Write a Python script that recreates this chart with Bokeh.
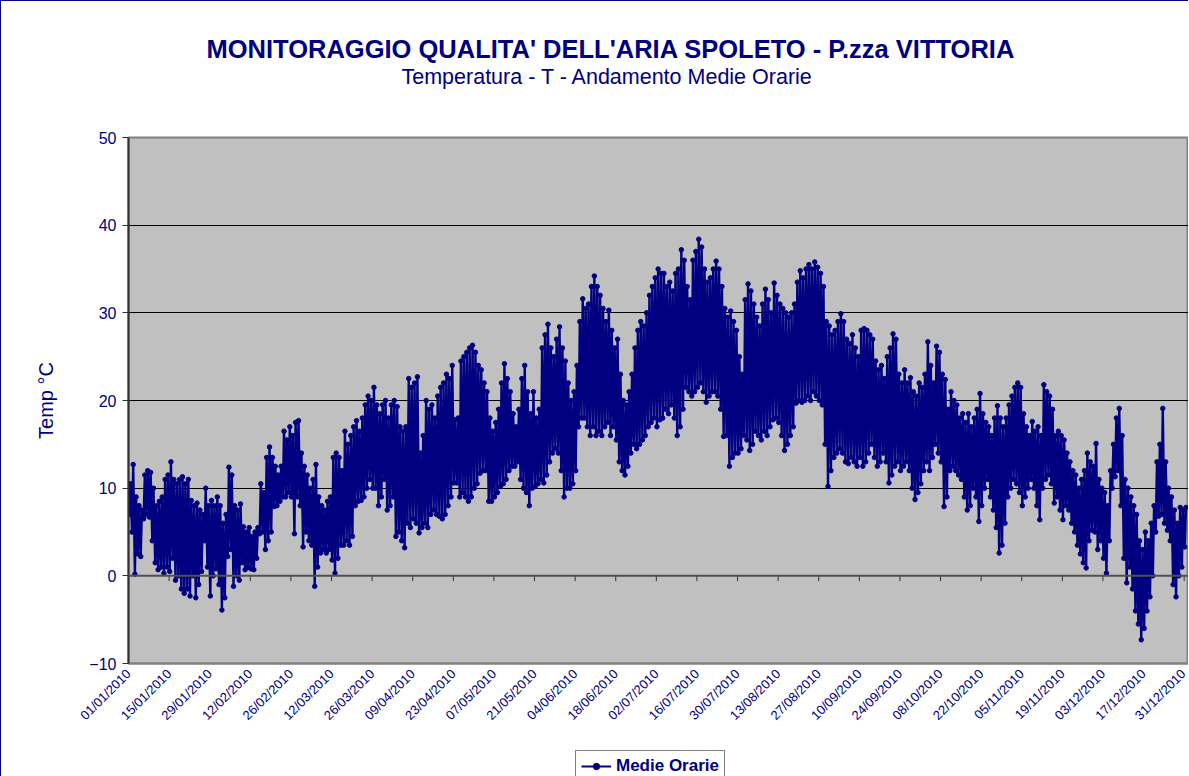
import math
from bokeh.plotting import figure
from bokeh.layouts import column
from bokeh.models import Range1d, FixedTicker, Title, Legend, LegendItem, Span
from bokeh.embed import file_html
from bokeh.resources import INLINE

title_text = "MONITORAGGIO QUALITA' DELL'ARIA  SPOLETO - P.zza VITTORIA"
subtitle_text = "Temperatura - T - Andamento Medie Orarie"
y_label = "Temp °C"
series_name = "Medie Orarie"

tick_labels = ["01/01/2010", "15/01/2010", "29/01/2010", "12/02/2010", "26/02/2010",
               "12/03/2010", "26/03/2010", "09/04/2010", "23/04/2010", "07/05/2010",
               "21/05/2010", "04/06/2010", "18/06/2010", "02/07/2010", "16/07/2010",
               "30/07/2010", "13/08/2010", "27/08/2010", "10/09/2010", "24/09/2010",
               "08/10/2010", "22/10/2010", "05/11/2010", "19/11/2010", "03/12/2010",
               "17/12/2010", "31/12/2010"]
tick_days = [0, 14, 28, 42, 56, 70, 84, 98, 112, 126, 140, 154, 168, 182, 196, 210,
             224, 238, 252, 266, 280, 294, 308, 322, 336, 350, 364]
y_ticks = [-10, 0, 10, 20, 30, 40, 50]

# hour of day of the daily minimum and maximum readings
min_hour = 5
max_hour = 15

# daily minimum of the hourly means (°C), 1 Jan .. 31 Dec 2010
daily_min = [
    7, 5, 0.2, 2.5, 2.2, 6.5, 7, 6.7, 4, 1.5,
    0.7, 1, 0.3, 1, 0.5, 2, -0.5, 0, -1.5, -2,
    -1.5, -2.3, 0, -2.5, -1, 0.5, 4, 1, -2.3, 0,
    0.8, -1, -3.9, -2.5, 2.2, 3, -1.2, 0, -0.5, 1.5,
    0.7, 1, 0.8, 0.7, 2, 4.8, 5, 3, 4, 5,
    7.9, 8, 8.5, 9, 9, 9.5, 9, 4.8, 9, 8,
    3.3, 5, 4, 3.5, -1.2, 1, 2.6, 3, 2.6, 3,
    1.8, 0.3, 2, 3.5, 3.5, 4, 3.5, 4.5, 8, 8.5,
    8.6, 9, 10, 11, 10, 10, 8, 9, 11, 7.5,
    8, 9, 4.5, 5, 4, 3.2, 6, 5.5, 6.5, 6,
    4.9, 5.5, 6, 5.5, 7, 7.5, 7, 6.8, 6.5, 7,
    8, 9, 10.6, 10.6, 9, 9.5, 9, 8.5, 9, 10,
    10.5, 11.7, 12, 12, 8.5, 8.5, 9, 9.5, 10.2, 10.5,
    11, 12, 12.5, 12.5, 13, 11, 10, 9.5, 8, 10,
    10.2, 10.5, 11, 10.6, 11.5, 13, 14, 14.5, 14, 12,
    9, 10, 10, 10.5, 12, 17, 18, 18, 17, 16,
    17, 16, 16.5, 16, 17, 17.5, 16, 17, 15.5, 13,
    12, 11.5, 12.5, 14, 15, 14.5, 15, 15.5, 16, 17,
    17.5, 18, 17, 17.8, 18, 19, 18.5, 19.5, 18, 16,
    17, 19, 21.5, 21, 20.5, 21, 21.5, 22, 21, 19.8,
    20.5, 21, 21, 20.5, 19, 15.9, 16, 12.5, 13.5, 14,
    14, 14.5, 16, 15.5, 14.3, 15, 16.5, 16, 15.5, 16.5,
    16, 17, 17.8, 18, 17.5, 16, 14.3, 15, 16, 17,
    19.7, 20, 19.8, 20, 20.5, 20, 21, 20.5, 20, 19.5,
    15, 10.2, 12, 13.5, 14, 14.5, 14, 13, 12.8, 13.5,
    13, 12.5, 13.5, 12.5, 13, 14, 15, 13.5, 12.5, 13,
    14, 13, 10.6, 11.5, 12.5, 13, 12, 12.5, 13, 12,
    10, 8.7, 9.5, 10.5, 12, 13, 12, 13.5, 15, 14,
    13, 7.9, 9, 12, 12.5, 12, 11.5, 11, 9, 7.5,
    8, 10, 9, 6.2, 8, 10, 11, 9, 7.5, 5.5,
    2.6, 3.5, 6, 9, 10, 11, 10.5, 9.5, 8, 9,
    10, 11, 10, 8, 6.4, 10, 11, 11.5, 10.5, 8.3,
    9, 7.5, 6.4, 8, 7.5, 6, 5, 3.5, 2.5, 1.5,
    0.9, 4, 5.2, 5, 3, 4, 2, 0.3, 4, 10,
    11.3, 12, 8, 2, -0.8, 1, -1.5, -4, -5.5, -7.3,
    -6, -4, -2.4, 0, 5, 6.8, 7, 6, 5.2, 4,
    -1, -2.4, 0, 1, 3.3,
]

# daily maximum of the hourly means (°C)
daily_max = [
    10.5, 12.7, 9, 8, 7.5, 11.5, 12, 11.8, 10, 8,
    8.5, 9, 11, 11.5, 13, 11, 10.5, 11, 11.3, 10.5,
    11, 8.6, 8, 8.3, 7.5, 7, 10, 8, 8.6, 8,
    9, 8, 6, 7, 12.4, 11.5, 8, 7.5, 8.2, 5.6,
    5, 5.5, 4.5, 5, 5.5, 10.5, 9.5, 13.5, 14.7, 13.5,
    12.5, 11.5, 12.5, 16.5, 15.5, 17, 16, 17.5, 17.7, 14,
    12.5, 11.5, 10, 11, 12.7, 9, 8, 7.5, 8.5, 9,
    13.5, 14, 13.5, 12, 16.5, 15, 16, 17, 17.7, 16.5,
    18, 19.5, 20.5, 20, 21.5, 19.5, 18.5, 19.5, 20, 18,
    19.5, 20, 19.3, 17, 16.5, 17, 22.5, 21.5, 22, 22.7,
    14, 16, 20, 19, 19.5, 18, 20.5, 21.5, 22, 23,
    22.5, 24, 17.8, 18, 24.5, 25, 25.5, 26, 26.3, 25.5,
    24, 23.5, 22, 21, 18, 16.5, 17.5, 19, 22, 24.2,
    22.5, 21, 18.5, 17, 19, 22.5, 24, 21, 18.5, 21,
    18, 19, 26, 27.5, 28.7, 26, 25, 27, 28.4, 26,
    24.5, 22, 20, 21, 24, 29, 31.6, 30.5, 31, 33,
    34.2, 33, 32, 30.5, 29, 30.3, 28, 26, 27, 23,
    20, 19.5, 21, 23, 26, 28, 29, 28.5, 30, 32,
    33, 34, 35, 34.5, 34.5, 33, 33.5, 32.5, 34.5, 35,
    37.2, 36, 33, 31.5, 36, 37, 38.4, 37.5, 35, 33.5,
    34, 35, 35.9, 35, 33, 30.5, 29.5, 30.2, 29, 28,
    25, 23, 31.5, 33.3, 32.5, 31, 29.5, 28.5, 31, 32.7,
    31.5, 30, 33.4, 32, 31, 30.5, 30, 29.5, 30, 31,
    33.5, 34.8, 34, 35, 35.5, 35, 35.8, 35.2, 34.5, 33,
    29, 28.5, 27.5, 28, 29, 29.9, 29, 27, 26.5, 27.5,
    26, 25, 28, 28.2, 28, 27.5, 27, 24.5, 23.5, 24,
    22.5, 25, 26, 27.6, 27, 23, 22, 23.5, 22, 22.6,
    21, 20.5, 22, 21.5, 23, 26.7, 24, 22, 26.2, 25.5,
    23, 22.4, 19, 21, 20, 19.5, 18, 18.5, 17.5, 18.5,
    17, 18, 19, 20.8, 18.5, 17.5, 17, 16, 18, 19.4,
    18, 17, 18, 19.5, 20.5, 21.5, 22, 21.5, 18.5, 17,
    16, 17.6, 16.5, 17, 16, 21.8, 21, 20.5, 19, 16,
    16.5, 16, 15.5, 14, 13, 12, 11.5, 10, 11, 12,
    14, 13, 12.5, 15.1, 11, 10, 9.5, 8, 12, 15,
    18, 19.1, 16, 11, 10, 9, 8, 7, 4, 3,
    5, 4, 6, 8, 13, 15, 19.1, 13, 10, 9,
    7.5, 6, 7.8, 7.5, 7.8,
]

assert len(daily_min) == 365 and len(daily_max) == 365

xs, ys = [], []
for d, (lo, hi) in enumerate(zip(daily_min, daily_max)):
    xs += [d + min_hour / 24.0, d + max_hour / 24.0]
    ys += [lo, hi]

NAVY = "#000080"
FONT = "Liberation Sans"

fig = figure(width=1187, height=744, output_backend="svg",
             toolbar_location=None, title=None,
             x_range=Range1d(0, 365.5), y_range=Range1d(-10, 50),
             min_border_left=127, min_border_top=0, min_border_bottom=82,
             min_border_right=0,
             background_fill_color="#C0C0C0", border_fill_color="white",
             outline_line_color="#808080", outline_line_width=2)

# titles (first added is closest to the plot frame); blank titles are spacers
fig.add_layout(Title(text=" ", standoff=46, text_font=FONT, text_font_size="1px",
                     text_color="white"), "above")
fig.add_layout(Title(text=subtitle_text, align="left", offset=273, standoff=0,
                     text_font=FONT, text_font_size="21.5px", text_font_style="normal",
                     text_color=NAVY), "above")
fig.add_layout(Title(text=title_text, align="left", offset=78, standoff=0,
                     text_font=FONT, text_font_size="25.5px", text_font_style="bold",
                     text_color=NAVY), "above")
fig.add_layout(Title(text=" ", standoff=28, text_font=FONT, text_font_size="1px",
                     text_color="white"), "above")

# grid
fig.xgrid.visible = False
fig.ygrid.ticker = FixedTicker(ticks=[10, 20, 30, 40])
fig.ygrid.grid_line_color = "black"
fig.ygrid.grid_line_width = 1

fig.add_layout(Span(location=0, dimension="width", line_color="#505050", line_width=2))

# y axis
yax = fig.yaxis[0]
yax.ticker = FixedTicker(ticks=y_ticks)
yax.axis_label = y_label
yax.axis_label_text_font = FONT
yax.axis_label_text_font_size = "20px"
yax.axis_label_text_font_style = "normal"
yax.axis_label_text_color = NAVY
yax.axis_label_standoff = 29
yax.major_label_text_font = FONT
yax.major_label_text_font_size = "16px"
yax.major_label_text_color = NAVY
yax.axis_line_color = "#303030"
yax.axis_line_width = 2
yax.major_tick_line_color = "#303030"
yax.major_tick_out = 6
yax.major_tick_in = 0
yax.minor_tick_line_color = None
yax.major_label_standoff = 6

# x axis (labels at bottom, tick marks on the zero line)
xax = fig.xaxis[0]
xax.ticker = FixedTicker(ticks=tick_days)
xax.major_label_overrides = {d: lab for d, lab in zip(tick_days, tick_labels)}
xax.major_label_orientation = math.pi / 4
xax.major_label_text_font = FONT
xax.major_label_text_font_size = "13px"
xax.major_label_text_color = NAVY
xax.major_tick_out = 0
xax.major_tick_in = 0
xax.minor_tick_line_color = None
xax.axis_line_color = "#808080"
xax.axis_line_width = 2
xax.major_label_standoff = 8

fig.segment(x0=tick_days, y0=[0] * len(tick_days), x1=tick_days,
            y1=[-0.6] * len(tick_days), line_color="#303030", line_width=1)

# data
ln = fig.line(xs, ys, line_color=NAVY, line_width=2.4)
sc = fig.scatter(xs, ys, marker="circle", size=4.5, fill_color=NAVY, line_color=NAVY)

# legend strip below the chart (a small figure that only holds the legend);
# its key glyphs sit outside the visible range so only the legend shows them
leg = figure(width=1187, height=31, output_backend="svg", toolbar_location=None,
             title=None, x_range=Range1d(0, 1), y_range=Range1d(0, 1),
             min_border=0, x_axis_location=None, y_axis_location=None,
             outline_line_color=None, background_fill_color="white",
             border_fill_color="white")
leg.xgrid.visible = False
leg.ygrid.visible = False
ln_key = leg.line(x=[-5, -4], y=[-5, -5], line_color=NAVY, line_width=2)
sc_key = leg.scatter(x=[-5], y=[-5], marker="circle", size=5, fill_color=NAVY,
                     line_color=NAVY)
legend = Legend(items=[LegendItem(label=series_name, renderers=[ln_key, sc_key])],
                location=(447, -6), orientation="horizontal",
                label_text_font=FONT, label_text_font_size="17px",
                label_text_font_style="bold", label_text_color=NAVY,
                border_line_color="black", border_line_width=1,
                background_fill_color="white", glyph_width=30, glyph_height=16,
                label_standoff=5, padding=5, margin=0)
leg.add_layout(legend)

p = column(fig, leg, spacing=0,
           styles={"border-top": "1px solid #000080", "border-left": "1px solid #000080"})

open("out.html", "w").write(file_html(p, INLINE))
